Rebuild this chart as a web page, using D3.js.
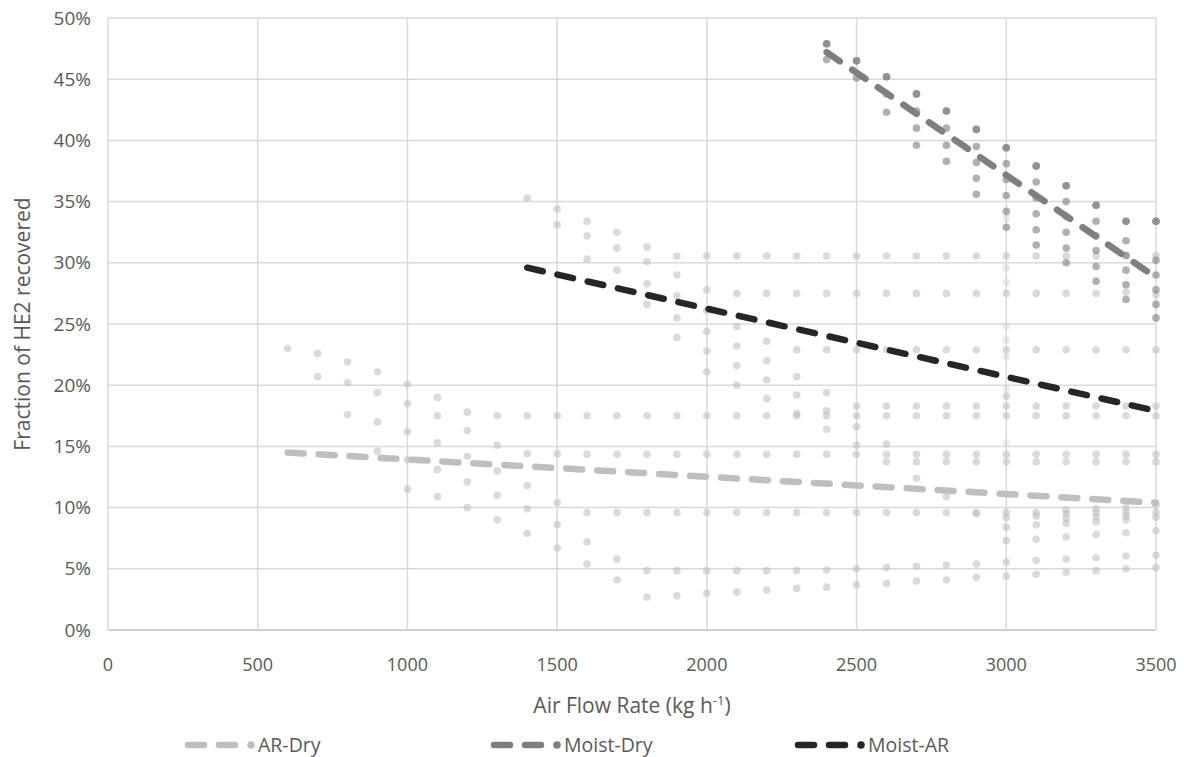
<!DOCTYPE html>
<html>
<head>
<meta charset="utf-8">
<script src="https://cdn.jsdelivr.net/npm/d3@7"></script>
<style>
  body { margin: 0; background: #fff; }
  svg text { font-family: "Open Sans", "Noto Sans", sans-serif; fill: #595959; }
</style>
</head>
<body>
<svg id="chart"></svg>
<script>
// axis ticks
var xTicks = [0, 500, 1000, 1500, 2000, 2500, 3000, 3500];
var yTicks = [0, 5, 10, 15, 20, 25, 30, 35, 40, 45, 50];

// scatter points: [air flow, list of fractions (%)]
var arDryPts = [
  [600, [23.0]],
  [700, [22.6, 20.7]],
  [800, [21.9, 20.2, 17.6]],
  [900, [21.1, 19.4, 17.0, 14.6]],
  [1000, [20.1, 18.5, 16.2, 13.9, 11.5]],
  [1100, [19.0, 17.5, 15.3, 13.1, 10.9]],
  [1200, [17.8, 16.3, 14.2, 12.1, 10.0]],
  [1300, [17.5, 15.1, 13.0, 11.0, 9.0]],
  [1400, [17.5, 14.4, 11.8, 9.9, 7.9]],
  [1500, [17.5, 14.4, 10.4, 8.6, 6.7]],
  [1600, [17.5, 14.35, 9.6, 7.2, 5.4]],
  [1700, [17.5, 14.35, 9.6, 5.8, 4.1]],
  [1800, [17.5, 14.35, 9.6, 4.85, 2.7]],
  [1900, [17.5, 14.35, 9.6, 4.85, 2.8]],
  [2000, [17.5, 14.35, 9.6, 4.85, 3.0]],
  [2100, [17.5, 14.35, 9.6, 4.85, 3.1]],
  [2200, [17.5, 14.35, 9.6, 4.85, 3.27]],
  [2300, [17.5, 14.35, 9.6, 4.85, 3.4]],
  [2400, [17.5, 14.35, 9.6, 4.9, 3.5]],
  [2500, [17.5, 14.35, 9.6, 5.0, 3.7]],
  [2600, [17.5, 14.35, 13.75, 9.6, 5.1, 3.8]],
  [2700, [17.5, 14.35, 13.75, 9.6, 5.2, 4.0]],
  [2800, [17.5, 14.35, 13.75, 9.6, 5.3, 4.1]],
  [2900, [17.5, 14.35, 13.75, 9.6, 9.5, 5.4, 4.3]],
  [3000, [17.5, 14.35, 13.75, 9.6, 9.2, 8.4, 7.3, 5.55, 4.4]],
  [3100, [17.5, 14.35, 13.75, 9.6, 9.3, 8.6, 7.4, 5.7, 4.55]],
  [3200, [17.5, 14.35, 13.75, 9.8, 9.5, 9.1, 8.7, 7.6, 5.8, 4.7]],
  [3300, [17.5, 14.35, 13.75, 9.9, 9.6, 9.25, 8.85, 7.8, 5.9, 4.85]],
  [3400, [17.5, 14.35, 13.75, 10.0, 9.6, 9.3, 9.0, 7.95, 6.05, 5.0]],
  [3500, [17.5, 14.35, 13.75, 10.2, 9.6, 9.2, 8.1, 6.1, 5.1]]
];

var moistArPts = [
  [1400, [35.3]],
  [1500, [34.4, 33.1]],
  [1600, [33.4, 32.2, 30.3]],
  [1700, [32.5, 31.2, 29.4]],
  [1800, [31.3, 30.1, 28.3, 26.6]],
  [1900, [30.55, 29.0, 27.3, 25.5, 23.9]],
  [2000, [30.55, 27.8, 26.1, 24.4, 22.8, 21.1]],
  [2100, [30.55, 27.5, 24.8, 23.2, 21.6, 20.0]],
  [2200, [30.55, 27.5, 23.6, 22.0, 20.45, 18.9]],
  [2300, [30.55, 27.5, 22.9, 20.7, 19.2, 17.7]],
  [2400, [30.55, 27.5, 22.9, 19.4, 17.9, 16.4]],
  [2500, [30.55, 27.5, 22.9, 18.3, 16.6, 15.1]],
  [2600, [30.55, 27.5, 22.9, 18.3, 15.2]],
  [2700, [30.55, 27.5, 22.9, 18.3, 12.4]],
  [2800, [30.55, 27.5, 22.9, 18.3, 10.9]],
  [2900, [30.55, 27.5, 22.9, 18.3]],
  [3000, [30.55, 27.5, 22.9, 19.1, 18.3]],
  [3100, [30.55, 27.5, 22.9, 18.3]],
  [3200, [30.55, 27.5, 22.9, 18.3]],
  [3300, [30.55, 27.5, 22.9, 18.3]],
  [3400, [30.6, 27.6, 22.9, 18.3]],
  [3500, [30.6, 27.4, 22.9, 18.3]]
];

// very faint points in the 3000 column
var faintPts = [
  [3000, [33.6, 29.6, 28.4, 24.8, 23.7, 22.3, 19.7, 15.3]]
];

var moistDryPts = [
  [2400, [47.9, 47.9, 46.6]],
  [2500, [46.5, 46.5, 45.1]],
  [2600, [45.2, 45.2, 43.8, 42.3]],
  [2700, [43.8, 43.8, 42.4, 41.0, 39.6]],
  [2800, [42.4, 42.4, 41.0, 39.6, 38.3]],
  [2900, [40.9, 40.9, 39.5, 38.2, 36.9, 35.6]],
  [3000, [39.4, 39.4, 38.1, 36.8, 35.5, 34.2, 32.9]],
  [3100, [37.9, 37.9, 36.6, 35.3, 34.0, 32.7, 31.45]],
  [3200, [36.3, 36.3, 35.0, 33.8, 32.5, 31.2, 30.0]],
  [3300, [34.7, 34.7, 33.4, 32.2, 31.0, 29.7, 28.5]],
  [3400, [33.4, 33.4, 31.8, 30.6, 29.4, 28.2, 27.0]],
  [3500, [33.4, 33.4, 30.2, 29.0, 27.8, 26.6, 25.5]]
];

// linear trend lines: [x, y%] end points
var arDryTrend = [[600, 14.5], [3500, 10.4]];
var moistDryTrend = [[2400, 47.2], [3500, 28.8]];
var moistArTrend = [[1400, 29.6], [3500, 17.9]];

var seriesNames = ["AR-Dry", "Moist-Dry", "Moist-AR"];
var seriesColors = ["#bfbfbf", "#7f7f7f", "#262626"];

var W = 1184, H = 757;
var margin = {top: 18, right: 28, bottom: 127, left: 108},
    width = W - margin.left - margin.right,
    height = H - margin.top - margin.bottom;

var svg = d3.select("#chart")
    .attr("width", W)
    .attr("height", H);

var g = svg.append("g")
    .attr("transform", "translate(" + margin.left + "," + margin.top + ")");

var x = d3.scaleLinear().domain([0, 3500]).range([0, width]);
var y = d3.scaleLinear().domain([0, 50]).range([height, 0]);

// gridlines
g.selectAll(".hgrid")
    .data(yTicks)
    .join("line")
    .attr("x1", 0).attr("x2", width)
    .attr("y1", d => y(d)).attr("y2", d => y(d))
    .attr("stroke", d => d === 0 ? "#bfbfbf" : "#d9d9d9")
    .attr("stroke-width", 1.5);

g.selectAll(".vgrid")
    .data(xTicks)
    .join("line")
    .attr("x1", d => x(d)).attr("x2", d => x(d))
    .attr("y1", 0).attr("y2", height)
    .attr("stroke", "#d9d9d9")
    .attr("stroke-width", 1.5);

// tick labels
g.selectAll(".ylab")
    .data(yTicks)
    .join("text")
    .attr("x", -17)
    .attr("y", d => y(d))
    .attr("dy", "0.35em")
    .attr("text-anchor", "end")
    .style("font-size", "19px")
    .text(d => d + "%");

g.selectAll(".xlab")
    .data(xTicks)
    .join("text")
    .attr("x", d => x(d))
    .attr("y", height + 41)
    .attr("text-anchor", "middle")
    .style("font-size", "18px")
    .text(d => d);

// axis titles
var xt = svg.append("text")
    .attr("x", margin.left + width / 2)
    .attr("y", 713)
    .attr("text-anchor", "middle")
    .style("font-size", "21px");
xt.append("tspan").text("Air Flow Rate (kg h");
xt.append("tspan").attr("dy", -8).style("font-size", "13px").text("-1");
xt.append("tspan").attr("dy", 8).text(")");

svg.append("text")
    .attr("transform", "translate(30," + (margin.top + height / 2) + ") rotate(-90)")
    .attr("text-anchor", "middle")
    .style("font-size", "21px")
    .text("Fraction of HE2 recovered");

// flatten [x, [values]] into points
function flat(arr) {
  var out = [];
  arr.forEach(function(c) {
    c[1].forEach(function(v) { out.push([c[0], v]); });
  });
  return out;
}

function drawPoints(arr, color, op) {
  g.append("g")
    .selectAll("circle")
    .data(flat(arr))
    .join("circle")
    .attr("cx", d => x(d[0]))
    .attr("cy", d => y(d[1]))
    .attr("r", 3.8)
    .attr("fill", color)
    .attr("fill-opacity", op);
}

drawPoints(faintPts, "#c8c8c8", 0.35);
drawPoints(arDryPts, "#bcbcbc", 0.55);
drawPoints(moistArPts, "#bcbcbc", 0.55);
drawPoints(moistDryPts, "#7f7f7f", 0.62);

var line = d3.line().x(d => x(d[0])).y(d => y(d[1]));

[arDryTrend, moistDryTrend, moistArTrend].forEach(function(t, i) {
  g.append("path")
    .attr("d", line(t))
    .attr("fill", "none")
    .attr("stroke", seriesColors[i])
    .attr("stroke-width", 6.5)
    .attr("stroke-linecap", "round")
    .attr("stroke-dasharray", "16,15");
});

// legend
var legX = [185, 491, 795];
var leg = svg.append("g");
seriesNames.forEach(function(name, i) {
  var lx = legX[i], ly = 745;
  leg.append("line")
    .attr("x1", lx + 3).attr("x2", lx + 50)
    .attr("y1", ly).attr("y2", ly)
    .attr("stroke", seriesColors[i])
    .attr("stroke-width", 6.5)
    .attr("stroke-linecap", "round")
    .attr("stroke-dasharray", "16,15");
  leg.append("circle")
    .attr("cx", lx + 66).attr("cy", ly)
    .attr("r", 3.8)
    .attr("fill", seriesColors[i]);
  leg.append("text")
    .attr("x", lx + 73).attr("y", ly)
    .attr("dy", "0.35em")
    .style("font-size", "19.5px")
    .text(name);
});
</script>
</body>
</html>
